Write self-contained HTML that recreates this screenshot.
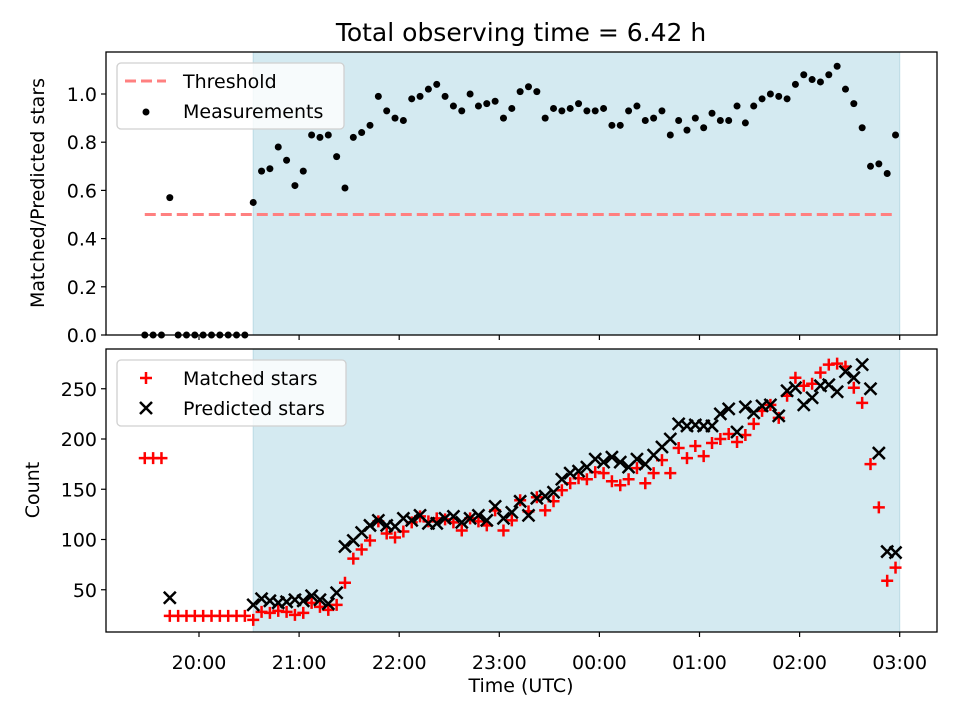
<!DOCTYPE html>
<html><head><meta charset="utf-8"><style>
html,body{margin:0;padding:0;background:#fff;}
svg{display:block;font-family:"DejaVu Sans","Liberation Sans",sans-serif;}
</style></head><body>
<svg id="fig" width="960" height="720" viewBox="0 0 960 720">
<text x="521" y="41" font-size="25" text-anchor="middle">Total observing time = 6.42 h</text>
<g id="topPanel"></g>
<g id="botPanel"></g>
<text x="521" y="692" font-size="19" text-anchor="middle">Time (UTC)</text>
<text transform="translate(44,193) rotate(-90)" font-size="19" text-anchor="middle">Matched/Predicted stars</text>
<text transform="translate(39,490) rotate(-90)" font-size="19" text-anchor="middle">Count</text>
</svg>
<script>
// minutes after 19:00 UTC
const times = [27.5,32.5,37.5,42.5,47.5,52.5,57.5,62.5,67.5,72.5,77.5,82.5,87.5,
92.5,97.5,102.5,107.5,112.5,117.5,122.5,127.5,132.5,137.5,142.5,147.5,152.5,157.5,162.5,167.5,172.5,177.5,182.5,187.5,192.5,197.5,202.5,207.5,212.5,217.5,222.5,227.5,232.5,237.5,242.5,247.5,252.5,257.5,262.5,267.5,272.5,277.5,282.5,287.5,292.5,297.5,302.5,307.5,312.5,317.5,322.5,327.5,332.5,337.5,342.5,347.5,352.5,357.5,362.5,367.5,372.5,377.5,382.5,387.5,392.5,397.5,402.5,407.5,412.5,417.5,422.5,427.5,432.5,437.5,442.5,447.5,452.5,457.5,462.5,467.5,472.5,477.5];
const ratio = [0,0,0,0.57,0,0,0,0,0,0,0,0,0,
0.55,0.68,0.69,0.78,0.725,0.62,0.68,0.83,0.82,0.83,
0.74,0.61,0.82,0.84,0.87,0.99,0.93,0.90,0.89,0.98,
0.99,1.02,1.04,0.99,0.95,0.93,1.00,0.95,0.96,0.97,
0.90,0.94,1.01,1.03,1.01,0.90,0.94,0.93,0.94,0.96,
0.93,0.93,0.94,0.87,0.87,0.93,0.95,0.89,0.90,0.93,
0.83,0.89,0.85,0.90,0.86,0.92,0.89,0.89,0.95,0.88,
0.95,0.98,1.00,0.99,0.98,1.04,1.08,1.06,1.05,1.08,
1.115,1.02,0.96,0.86,0.70,0.71,0.67,0.83];
const matched = [181,181,181,24,24,24,24,24,24,24,24,24,24,
20,28,27,29,28,25,27,37,33,30,35,57,81,90,99,118,106,102,108,117,123,118,121,120,117,109,121,118,114,129,109,119,139,
128,142,129,138,149,156,161,160,167,166,158,154,160,171,156,166,179,166,191,181,193,183,196,200,205,197,204,215,228,234,221,243,261,253,255,266,274,275,272,251,236,175,132,59,72];
const predicted = [null,null,null,42,null,null,null,null,null,null,null,null,null,
35,41,39,37,38,40,39,44,40,36,47,93,99,107,114,119,114,113,121,119,124,116,116,121,123,117,121,124,119,133,121,127,138,
124,141,143,147,160,166,168,172,180,177,182,177,172,180,175,184,192,200,215,213,214,213,213,225,230,207,232,226,233,234,223,248,251,234,241,253,254,247,267,261,274,250,186,88,87];
const xTickLabels = ["20:00","21:00","22:00","23:00","00:00","01:00","02:00","03:00"];
const xTickMinutes = [60,120,180,240,300,360,420,480];
const topYTicks = [0.0,0.2,0.4,0.6,0.8,1.0];
const botYTicks = [50,100,150,200,250];
const threshold = 0.5;
const thresholdRange = [27.5,477.5];
const shadeRange = [92.5,480];

const NS="http://www.w3.org/2000/svg";
const L=106,R=937;
const xs = m => 199 + (m-60)*100.1/60;
const yTop = v => 335 - v*241;
const yBot = c => 640 - c*1.005;
function mk(tag,attrs,parent){const e=document.createElementNS(NS,tag);for(const k in attrs)e.setAttribute(k,attrs[k]);parent.appendChild(e);return e;}

function panel(g,y0,y1,ticks,yf,fmt,showLabels){
  const sh=mk('rect',{x:xs(shadeRange[0]),y:y0,width:xs(shadeRange[1])-xs(shadeRange[0]),height:y1-y0,fill:'#d4eaf1',stroke:'#bcdbe5','stroke-width':1},g);
  
  
  ticks.forEach(t=>{
    const y=yf(t);
    const tl=mk('line',{x1:L-5,x2:L,y1:y,y2:y,stroke:'#000','stroke-width':1.2},g);
    
    
    const tx=mk('text',{x:L-9,y:y+7,'font-size':19,'text-anchor':'end'},g);
    tx.textContent=fmt(t);
    
    
  });
  xTickMinutes.forEach((m,i)=>{
    const x=xs(m);
    const tl=mk('line',{x1:x,x2:x,y1:y1,y2:y1+5,stroke:'#000','stroke-width':1.2},g);
    
    
    if(showLabels){
      const tx=mk('text',{x:x,y:669,'font-size':19,'text-anchor':'middle'},g);
      tx.textContent=xTickLabels[i];
      
      
    }
  });
}
const topG=document.getElementById('topPanel'), botG=document.getElementById('botPanel');
panel(topG,52,335,topYTicks,yTop,v=>v.toFixed(1),false);
panel(botG,349,632,botYTicks,yBot,v=>String(v),true);

// threshold
const th=mk('line',{x1:xs(thresholdRange[0]),x2:xs(thresholdRange[1]),y1:yTop(threshold),y2:yTop(threshold),stroke:'#ff8080','stroke-width':3,'stroke-dasharray':'11,5'},topG);


// measurements
times.forEach((t,i)=>{
  const c=mk('circle',{cx:xs(t),cy:yTop(ratio[i]),r:3.5,fill:'#000'},topG);
  
  
});
// bottom markers
const clip=mk('clipPath',{id:'bc'},botG); mk('rect',{x:L,y:349,width:R-L,height:283},clip);
const bm=mk('g',{'clip-path':'url(#bc)'},botG);
times.forEach((t,i)=>{
  const x=xs(t),y=yBot(matched[i]),s=6;
  const p=mk('path',{d:`M${x-s},${y}H${x+s}M${x},${y-s}V${y+s}`,stroke:'#ff0000','stroke-width':2.5,fill:'none'},bm);
  
  
});
times.forEach((t,i)=>{
  if(predicted[i]===null)return;
  const x=xs(t),y=yBot(predicted[i]),s=6;
  const p=mk('path',{d:`M${x-s},${y-s}L${x+s},${y+s}M${x-s},${y+s}L${x+s},${y-s}`,stroke:'#000','stroke-width':2.5,fill:'none'},bm);
  
  
});
// frames
[[topG,52,335],[botG,349,632]].forEach(([g,a,b])=>{
  const f=mk('rect',{x:L,y:a,width:R-L,height:b-a,fill:'none',stroke:'#000','stroke-width':1.3},g);
  
  
});
// legends
function legend(g,y,w,items){
  const lg=mk('g',{},g);
  
  
  mk('rect',{x:117,y:y,width:w,height:66,rx:4,fill:'rgba(255,255,255,0.8)',stroke:'#d0d0d0','stroke-width':1.3},lg);
  items.forEach((it,i)=>{
    const cy=y+18+i*30;
    const e=mk('g',{},lg);
    
    
    it.draw(e,146,cy);
    const t=mk('text',{x:183,y:cy+7,'font-size':19},e);
    t.textContent=it.label;
  });
}
legend(topG,63,227,[
  {label:'Threshold',draw:(e,x,y)=>mk('line',{x1:125,x2:166,y1:y,y2:y,stroke:'#ff8080','stroke-width':3,'stroke-dasharray':'11,5'},e)},
  {label:'Measurements',draw:(e,x,y)=>mk('circle',{cx:x,cy:y+1,r:3.5,fill:'#000'},e)}
]);
legend(botG,360,229,[
  {label:'Matched stars',draw:(e,x,y)=>mk('path',{d:`M${x-6},${y}H${x+6}M${x},${y-6}V${y+6}`,stroke:'#f00','stroke-width':2.5},e)},
  {label:'Predicted stars',draw:(e,x,y)=>mk('path',{d:`M${x-6},${y-6}L${x+6},${y+6}M${x-6},${y+6}L${x+6},${y-6}`,stroke:'#000','stroke-width':2.5},e)}
]);
</script>
</body></html>
